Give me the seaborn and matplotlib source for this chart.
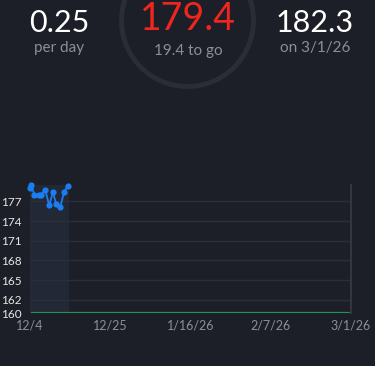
import matplotlib
matplotlib.use('Agg')
import matplotlib.pyplot as plt
from matplotlib.patches import Circle
import numpy as np
import pandas as pd
import seaborn as sns

# Data
days = [0.0, 0.3, 1.2, 2.5, 3.0, 4.1, 5.2, 6.2, 7.1, 8.2, 9.2, 10.3]
weights = [179.0, 179.5, 178.0, 178.0, 178.0, 178.8, 176.4, 178.4, 176.6, 176.1, 178.4, 179.4]
goal = 160
total_days = 87
x_tick_labels = ['12/4', '12/25', '1/16/26', '2/7/26', '3/1/26']
y_ticks = [160, 162, 165, 168, 171, 174, 177]

rate_text = '0.25'
current_text = '179.4'
to_go_text = '19.4 to go'
projected_text = '182.3'
projected_date = 'on 3/1/26'

bg = '#1c1f27'
grid_c = '#2c2f37'
blue = '#1a7df2'

sns.set_style('dark', {'axes.facecolor': bg, 'figure.facecolor': bg})
plt.rcParams['font.family'] = ['Lato', 'DejaVu Sans']

fig = plt.figure(figsize=(3.75, 3.66), dpi=100)
fig.patch.set_facecolor(bg)

# chart
ax = fig.add_axes([30 / 375, 53 / 366, 321 / 375, 128 / 366])
ax.set_facecolor(bg)
df = pd.DataFrame({'day': days, 'weight': weights})
ax.axvspan(0, days[-1], color='#222836', zorder=0)
sns.lineplot(data=df, x='day', y='weight', ax=ax, color=blue, marker='o',
             markersize=4.5, markeredgewidth=0, linewidth=1.3, zorder=3, clip_on=False)
ax.axhline(goal, color='#1f9556', linewidth=1.6, zorder=2)
ax.set_xlim(0, total_days)
ax.set_ylim(160, 179.5)
ax.set_yticks(y_ticks)
ax.set_xticks(np.linspace(0, total_days, len(x_tick_labels)))
ax.set_xticklabels(x_tick_labels)
for t in y_ticks[1:]:
    ax.axhline(t, color=grid_c, linewidth=1, zorder=1)
ax.grid(False)
ax.set_xlabel('')
ax.set_ylabel('')
ax.tick_params(axis='y', colors='#e6e6e6', labelsize=8.5, length=0, pad=6)
ax.tick_params(axis='x', colors='#8c8f96', labelsize=9, length=0, pad=5)
for s in ['top', 'bottom']:
    ax.spines[s].set_visible(False)
ax.spines['left'].set_color('#262a33')
ax.spines['right'].set_color('#33363e')
ax.spines['right'].set_linewidth(1.5)

# header overlay in pixel coordinates
top = fig.add_axes([0, 0, 1, 1], zorder=-1)
top.set_xlim(0, 375)
top.set_ylim(366, 0)
top.axis('off')
top.add_patch(Circle((187.5, 20.5), 66, fill=False, edgecolor='#2a2d35', linewidth=3.5))
top.text(59, 23, rate_text, color='white', fontsize=22, ha='center', va='center')
top.text(59, 48, 'per day', color='#8c8f96', fontsize=11, ha='center', va='center')
top.text(188, 19, current_text, color='#f0261e', fontsize=27, ha='center', va='center')
top.text(188, 51, to_go_text, color='#8c8f96', fontsize=11, ha='center', va='center')
top.text(315, 23, projected_text, color='white', fontsize=22, ha='center', va='center')
top.text(315, 48, projected_date, color='#8c8f96', fontsize=11, ha='center', va='center')

fig.savefig('out.png', dpi=100, facecolor=bg)
